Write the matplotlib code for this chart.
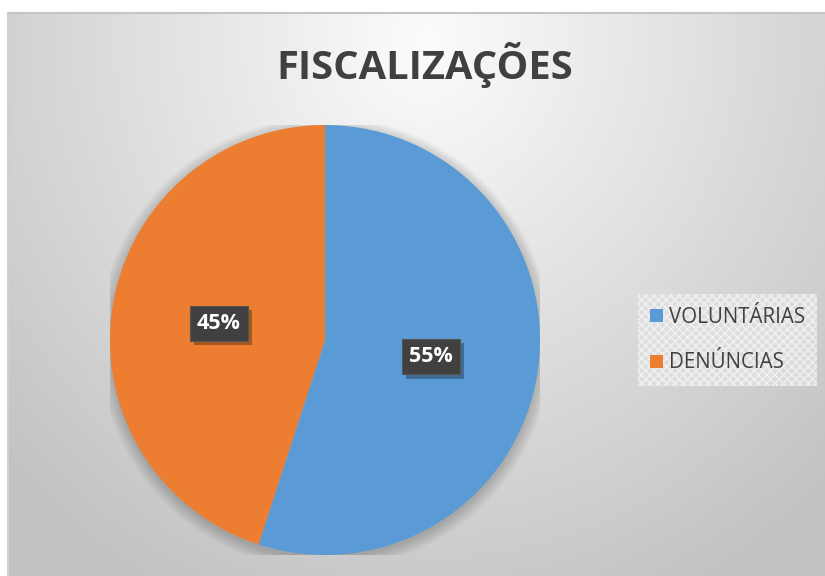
import numpy as np
import matplotlib
matplotlib.use('Agg')
import matplotlib.pyplot as plt
from matplotlib.patches import Circle
from matplotlib import patheffects

categories = ['VOLUNTÁRIAS', 'DENÚNCIAS']
values = [55, 45]
colors = ['#5B9BD5', '#ED7D31']
title = 'FISCALIZAÇÕES'

plt.rcParams['hatch.color'] = '#f4f4f4'
plt.rcParams['hatch.linewidth'] = 1.2

W, H = 825, 576
fig = plt.figure(figsize=(W / 100, H / 100), dpi=100)
fig.patch.set_facecolor('white')

# background chart area with radial gradient
bg = fig.add_axes([0, 0, 1, 1])
bg.axis('off')
x0, y0 = 8, 13
yy, xx = np.mgrid[y0:H, x0:W]
d = np.sqrt(((xx - 425) / 520.0) ** 2 + ((yy - 40) / 560.0) ** 2)
g = 252 - 52 * np.clip(d, 0, 1.1)
img = np.dstack([g, g, g]) / 255.0
bg.imshow(img, extent=(x0, W, H, y0), interpolation='bilinear', zorder=0, aspect='auto')
bg.plot([x0, W], [y0, y0], color='#c4c4c4', lw=1.5, zorder=1)
bg.plot([x0, x0], [y0, H], color='#cfcfcf', lw=1.5, zorder=1)
bg.set_xlim(0, W)
bg.set_ylim(H, 0)

# title
t = bg.text(425, 65, title, ha='center', va='center', fontsize=28, fontweight='bold',
            color='#404040', family='Open Sans', zorder=3)
fig.canvas.draw()
w = t.get_window_extent().width
t.set_fontsize(28 * 296.0 / w)

# pie
cx, cy, r = 325, 340, 215
pax = fig.add_axes([(cx - r) / W, (H - cy - r) / H, 2 * r / W, 2 * r / H])
pax.patch.set_alpha(0)
for i in range(10):
    pax.add_patch(Circle((0, -0.015), 1.0 + 0.006 * i, facecolor='black', alpha=0.02,
                         edgecolor='none', zorder=0))
wedges, texts, autotexts = pax.pie(
    values, colors=colors, startangle=90, counterclock=False,
    autopct='%1.0f%%', pctdistance=0.5, radius=1,
    wedgeprops=dict(linewidth=0, zorder=1),
    textprops=dict(color='white', fontsize=15.5, fontweight='bold', family='Open Sans'))
pax.set_xlim(-1.0, 1.0)
pax.set_ylim(-1.0, 1.0)
pax.axis('off')

for at in autotexts:
    at.set_zorder(5)
    at.set_bbox(dict(boxstyle='square,pad=0.33', facecolor='#404040', edgecolor='#555555', lw=0.8))
    at.get_bbox_patch().set_path_effects([
        patheffects.SimplePatchShadow(offset=(3, -3), shadow_rgbFace='black', alpha=0.3),
        patheffects.Normal()])

# legend
leg = fig.legend(wedges, categories, loc='center left',
                 bbox_to_anchor=(638 / W, 1 - 340 / H),
                 prop=dict(family='Open Sans', size=14.8),
                 handlelength=0.6, handleheight=0.6, handletextpad=0.3,
                 labelspacing=1.2, borderpad=0.6, borderaxespad=0.0,
                 frameon=True, fancybox=False)
for txt in leg.get_texts():
    txt.set_color('#404040')
fr = leg.get_frame()
fr.set_facecolor('#e0e0e0')
fr.set_edgecolor('#f4f4f4')
fr.set_linewidth(0)
fr.set_hatch('xxxx')
try:
    fr.set_hatchcolor('#f4f4f4')
except Exception:
    pass

fig.savefig('out.png', dpi=100, facecolor=fig.get_facecolor())
